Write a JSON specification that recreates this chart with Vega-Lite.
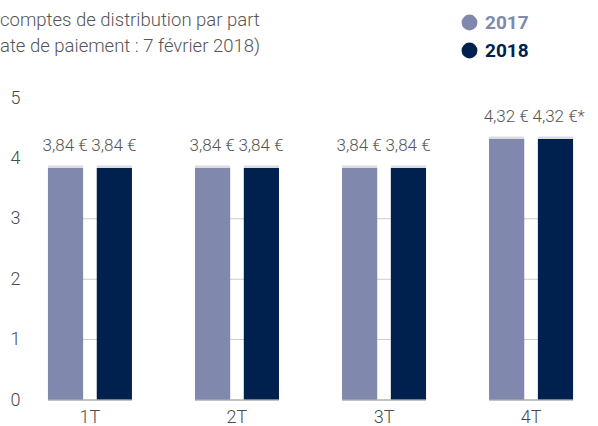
{
  "$schema": "https://vega.github.io/schema/vega-lite/v6.json",
  "width": 561,
  "height": 302,
  "autosize": "none",
  "padding": {"left": 30, "top": 98, "right": 7, "bottom": 26},
  "background": "white",
  "config": {
    "view": {"stroke": null},
    "font": "Roboto",
    "axis": {"domain": false, "ticks": false, "grid": false, "labelFont": "Roboto", "labelFontWeight": 300, "labelFontSize": 18, "labelColor": "#4a4a4a", "title": null}
  },
  "title": {
    "text": ["comptes de distribution par part", "ate de paiement : 7 février 2018)"],
    "anchor": "start",
    "frame": "group",
    "dx": -30,
    "fontSize": 18.5,
    "fontWeight": 300,
    "font": "Roboto",
    "color": "#555555",
    "lineHeight": 26,
    "offset": -42
  },
  "datasets": {
    "bars": [
      {"trimestre": "1T", "annee": "2017", "valeur": 3.84, "etiquette": "3,84 €"},
      {"trimestre": "1T", "annee": "2018", "valeur": 3.84, "etiquette": "3,84 €"},
      {"trimestre": "2T", "annee": "2017", "valeur": 3.84, "etiquette": "3,84 €"},
      {"trimestre": "2T", "annee": "2018", "valeur": 3.84, "etiquette": "3,84 €"},
      {"trimestre": "3T", "annee": "2017", "valeur": 3.84, "etiquette": "3,84 €"},
      {"trimestre": "3T", "annee": "2018", "valeur": 3.84, "etiquette": "3,84 €"},
      {"trimestre": "4T", "annee": "2017", "valeur": 4.32, "etiquette": "4,32 €"},
      {"trimestre": "4T", "annee": "2018", "valeur": 4.32, "etiquette": "4,32 €*"}
    ],
    "grille": [
      {"trimestre": "1T", "niveau": 1}, {"trimestre": "1T", "niveau": 2}, {"trimestre": "1T", "niveau": 3},
      {"trimestre": "2T", "niveau": 1}, {"trimestre": "2T", "niveau": 2}, {"trimestre": "2T", "niveau": 3},
      {"trimestre": "3T", "niveau": 1}, {"trimestre": "3T", "niveau": 2}, {"trimestre": "3T", "niveau": 3},
      {"trimestre": "4T", "niveau": 1}, {"trimestre": "4T", "niveau": 2}, {"trimestre": "4T", "niveau": 3}
    ],
    "base": [
      {"trimestre": "1T", "niveau": 0}, {"trimestre": "2T", "niveau": 0},
      {"trimestre": "3T", "niveau": 0}, {"trimestre": "4T", "niveau": 0}
    ]
  },
  "layer": [
    {
      "data": {"name": "grille"},
      "mark": {"type": "tick", "size": 84, "thickness": 1, "color": "#b8b8b8"},
      "encoding": {
        "x": {"field": "trimestre", "type": "nominal", "scale": {"paddingInner": 0.4286, "paddingOuter": 0.122}, "axis": {"labelAngle": 0, "labelPadding": 8}},
        "y": {"field": "niveau", "type": "quantitative", "scale": {"domain": [0, 5], "nice": false}, "axis": {"values": [0, 1, 2, 3, 4, 5], "format": "d", "labelPadding": 10}}
      }
    },
    {
      "data": {"name": "bars"},
      "mark": {"type": "bar", "color": "#000000", "opacity": 0.07, "xOffset": 3, "yOffset": -2},
      "encoding": {
        "x": {"field": "trimestre", "type": "nominal"},
        "xOffset": {"field": "annee", "type": "nominal", "scale": {"paddingInner": 0.28, "paddingOuter": 0}},
        "y": {"field": "valeur", "type": "quantitative"}
      }
    },
    {
      "data": {"name": "bars"},
      "mark": {"type": "bar", "color": "#000000", "opacity": 0.07, "xOffset": 6, "yOffset": -3},
      "encoding": {
        "x": {"field": "trimestre", "type": "nominal"},
        "xOffset": {"field": "annee", "type": "nominal"},
        "y": {"field": "valeur", "type": "quantitative"}
      }
    },
    {
      "data": {"name": "bars"},
      "mark": {"type": "bar"},
      "encoding": {
        "x": {"field": "trimestre", "type": "nominal"},
        "xOffset": {"field": "annee", "type": "nominal"},
        "y": {"field": "valeur", "type": "quantitative"},
        "color": {
          "field": "annee", "type": "nominal",
          "scale": {"domain": ["2017", "2018"], "range": ["#8089ad", "#00214e"]},
          "legend": {
            "title": null, "orient": "none", "legendX": 430, "legendY": -85,
            "symbolType": "circle", "symbolSize": 250, "labelFontSize": 19, "labelFontWeight": "bold",
            "labelFont": "Roboto", "rowPadding": 8, "labelOffset": 6,
            "encode": {"labels": {"update": {"fill": {"scale": "color", "field": "value"}}}}
          }
        }
      }
    },
    {
      "data": {"name": "base"},
      "mark": {"type": "tick", "size": 84, "thickness": 2, "color": "#aaaaaa"},
      "encoding": {
        "x": {"field": "trimestre", "type": "nominal"},
        "y": {"field": "niveau", "type": "quantitative"}
      }
    },
    {
      "data": {"name": "bars"},
      "mark": {"type": "text", "baseline": "bottom", "align": "left", "dx": -23, "dy": -13, "fontSize": 17, "fontWeight": 300, "font": "Roboto", "color": "#555555"},
      "encoding": {
        "x": {"field": "trimestre", "type": "nominal"},
        "xOffset": {"field": "annee", "type": "nominal"},
        "y": {"field": "valeur", "type": "quantitative"},
        "text": {"field": "etiquette"}
      }
    }
  ]
}
